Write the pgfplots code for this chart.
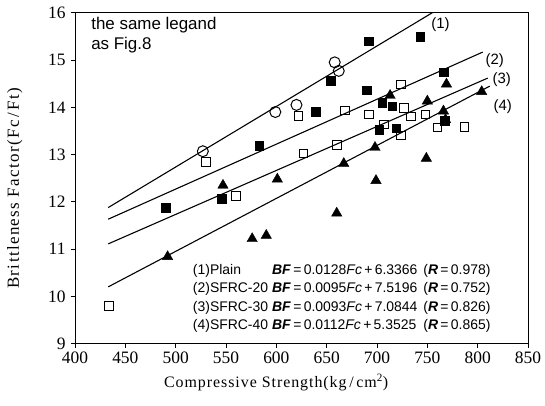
\documentclass[border=0pt]{standalone}
\usepackage{fontspec}
\setmainfont{Liberation Serif}
\newfontfamily\sansf{Liberation Sans}
\usepackage{pgfplots}
\pgfplotsset{compat=1.18}
\usetikzlibrary{calc}
\begin{document}
\begin{tikzpicture}
\begin{axis}[
  scale only axis, width=453bp, height=331bp,
  xmin=400, xmax=850, ymin=9, ymax=16,
  xtick={400,450,...,850}, ytick={9,10,...,16},
  tick align=outside, tick pos=left,
  major tick length=4bp,
  axis line style={line width=0.9pt},
  every tick/.style={line width=0.8pt, black},
  /pgf/number format/assume math mode=true,
  ticklabel style={font=\fontsize{17.5}{17.5}\selectfont},
  xticklabel style={yshift=-1bp},
  yticklabel style={xshift=-2bp},
  xlabel={Compressive Strength(kg\,/\,cm\textsuperscript{2})},
  ylabel={Brittleness Factor(Fc\,/\,Ft)},
  xlabel style={font=\fontsize{16}{16}\selectfont\addfontfeatures{LetterSpace=6}, at={(axis description cs:0.444,0)}, anchor=north, yshift=-27bp},
  ylabel style={font=\fontsize{17}{17}\selectfont\addfontfeatures{LetterSpace=8}, at={(axis description cs:-0.108,0.47)}, anchor=south, rotate=0},
  clip=false,
]
% regression lines
\addplot[black, line width=1.1pt] coordinates {(433,11.879) (755,16.0)};
\addplot[black, line width=1.1pt] coordinates {(433,11.633) (805,15.167)};
\addplot[black, line width=1.1pt] coordinates {(433,11.111) (810,14.617)};
\addplot[black, line width=1.1pt] coordinates {(433,10.202) (812,14.447)};
% Plain: open circles
\addplot[only marks, mark=o, mark size=5.5bp, mark options={line width=1pt, black}] coordinates {
(527,13.07) (599,13.90) (620,14.05) (658,14.95) (662,14.77)};
% SFRC-20: filled squares
\addplot[only marks, mark=square*, mark size=4.3bp, mark options={black, fill=black}] coordinates {
(490,11.87) (546,12.07) (583,13.19) (639,13.91) (654,14.56) (690,14.36) (692,15.40)
(705,14.10) (715,14.02) (702,13.52) (719,13.56) (743,15.49) (766,14.74) (767,13.72)};
% SFRC-30: open squares
\addplot[only marks, mark=square, mark size=4.3bp, mark options={line width=0.9pt, black}] coordinates {
(434,9.80) (530,12.84) (560,12.12) (622,13.82) (627,13.02) (660,13.20) (668,13.93)
(692,13.85) (707,13.64) (724,14.48) (727,13.98) (724,13.40) (734,13.81) (748,13.85)
(760,13.57) (787,13.58)};
% SFRC-40: filled triangles
\addplot[only marks, mark=triangle*, mark size=6bp, mark options={black, fill=black}] coordinates {
(492,10.84) (547,12.35) (576,11.22) (590,11.29) (601,12.48) (660,11.76) (667,12.81)
(698,13.15) (699,12.45) (713,14.25) (749,12.92) (750,14.13) (766,13.92) (769,14.49)
(768,13.74) (804,14.33)};
% labels
\node[font=\sansf\fontsize{15}{15}\selectfont] at (axis cs:763,15.75) {(1)};
\node[font=\sansf\fontsize{15}{15}\selectfont] at (axis cs:817,14.98) {(2)};
\node[font=\sansf\fontsize{15}{15}\selectfont] at (axis cs:824,14.58) {(3)};
\node[font=\sansf\fontsize{15}{15}\selectfont] at (axis cs:825,14.01) {(4)};
\node[font=\sansf\fontsize{17}{19.5}\selectfont, anchor=north west, align=left, inner sep=0pt] at (axis cs:416,15.9) {the same legand\\as Fig.8};
\node[font=\sansf\fontsize{14}{18.5}\selectfont, anchor=north west, inner sep=0pt] at (axis cs:517,10.74) {%
\begin{tabular}{@{}l@{\hspace{4bp}}l@{\hspace{6bp}}l@{}}
(1)Plain & \textbf{\textit{BF}}\,=\,0.0128\textit{Fc}\,+\,6.3366 & (\textbf{\textit{R}}\,=\,0.978)\\
(2)SFRC-20 & \textbf{\textit{BF}}\,=\,0.0095\textit{Fc}\,+\,7.5196 & (\textbf{\textit{R}}\,=\,0.752)\\
(3)SFRC-30 & \textbf{\textit{BF}}\,=\,0.0093\textit{Fc}\,+\,7.0844 & (\textbf{\textit{R}}\,=\,0.826)\\
(4)SFRC-40 & \textbf{\textit{BF}}\,=\,0.0112\textit{Fc}\,+\,5.3525 & (\textbf{\textit{R}}\,=\,0.865)
\end{tabular}};
\end{axis}
\pgfresetboundingbox
\useasboundingbox ($(current axis.south west)+(-75bp,-62bp)$) rectangle ($(current axis.north east)+(17bp,12.7bp)$);
\end{tikzpicture}
\end{document}
